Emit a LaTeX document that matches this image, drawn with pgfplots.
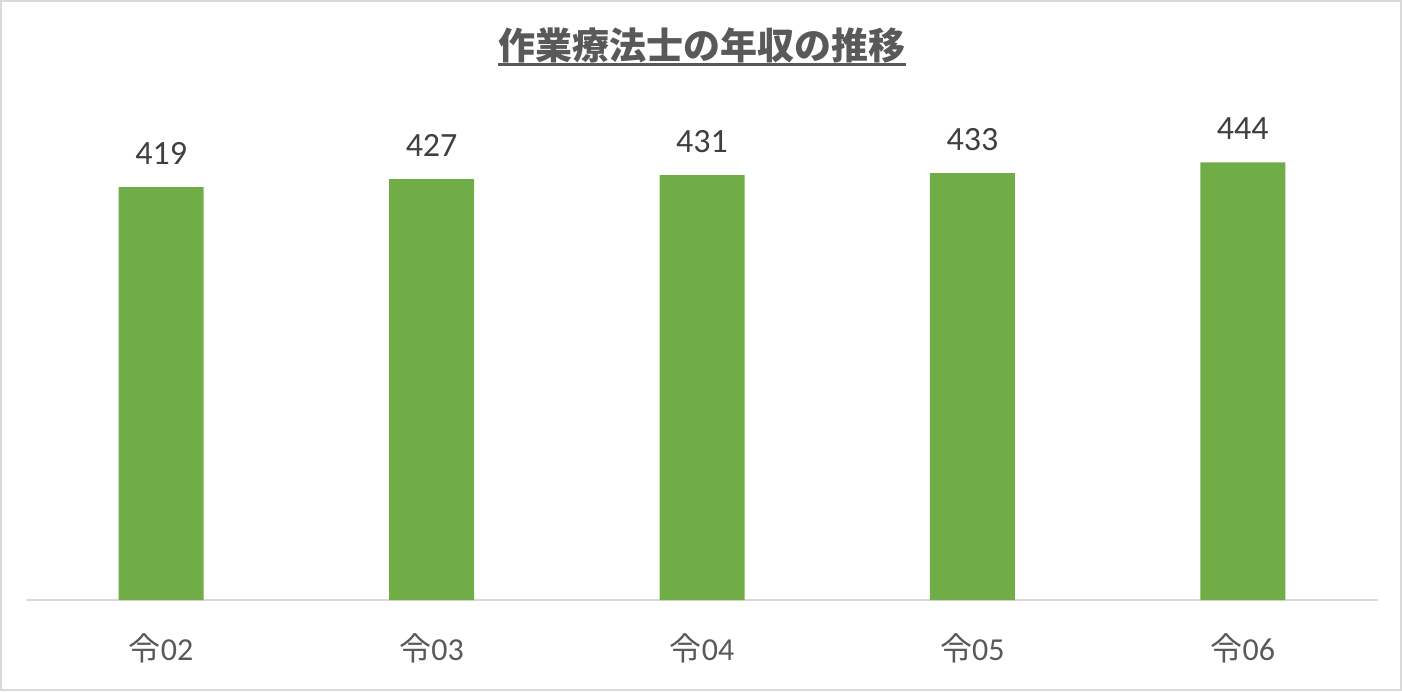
\documentclass[border=0pt]{standalone}
\usepackage{fontspec}
\setmainfont{Carlito}
\newfontfamily\jp{Noto Sans CJK JP}
\usepackage{pgfplots}
\pgfplotsset{compat=1.18}

\definecolor{bargreen}{HTML}{70AD47}
\definecolor{txtgray}{HTML}{595959}
\definecolor{lblgray}{HTML}{404040}
\definecolor{linegray}{HTML}{D9D9D9}

\begin{document}
\begin{tikzpicture}
  \useasboundingbox (0,0) rectangle (701pt,345.5pt);
  \draw[linegray, line width=1pt] (0.5pt,0.5pt) rectangle (700.5pt,345pt);

  % title with underline
  \node[inner sep=0, text=txtgray, font=\jp\bfseries\fontsize{18.5pt}{20pt}\selectfont]
    (t) at (351pt,323pt) {作業療法士の年収の推移};
  \draw[txtgray, line width=1.5pt] (t.west |- 0,313pt) -- (t.east |- 0,313pt);

  \begin{axis}[
    at={(13pt,45.5pt)}, anchor=south west,
    scale only axis,
    width=676pt, height=246.4pt,
    xmin=-0.5, xmax=4.5,
    ymin=0, ymax=500,
    axis x line*=bottom,
    axis y line=none,
    axis line style={draw=linegray, line width=0.75pt, -},
    major tick length=0,
    xtick={0,1,2,3,4},
    xticklabels={{\jp 令}02,{\jp 令}03,{\jp 令}04,{\jp 令}05,{\jp 令}06},
    xticklabel style={anchor=base, yshift=-30pt, text=txtgray,
      font=\fontsize{16pt}{18pt}\selectfont},
    /pgf/number format/assume math mode=true,
    nodes near coords,
    nodes near coords style={anchor=base, inner sep=0, yshift=11.5pt,
      text=lblgray, font=\fontsize{17pt}{19pt}\selectfont},
    clip=false,
  ]
    \addplot[ybar, bar width=42.5pt, fill=bargreen, draw=none]
      coordinates {(0,419) (1,427) (2,431) (3,433) (4,444)};
  \end{axis}
\end{tikzpicture}
\end{document}
